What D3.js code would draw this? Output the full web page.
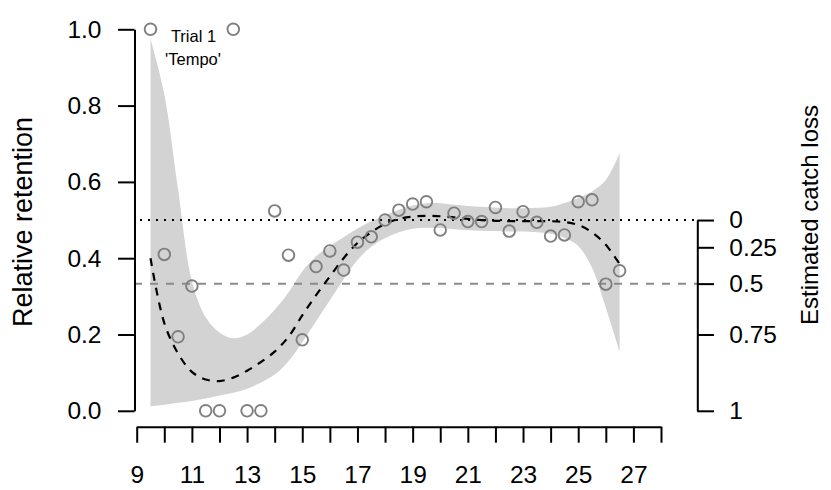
<!DOCTYPE html>
<html>
<head>
<meta charset="utf-8">
<script src="https://cdn.jsdelivr.net/npm/d3@7/dist/d3.min.js"></script>
<style>
  html, body { margin: 0; padding: 0; background: #fff; }
  svg { display: block; font-family: "Liberation Sans", Arial, Helvetica, sans-serif; }
</style>
</head>
<body>
<svg id="chart" width="831" height="490"></svg>
<script>
// Mesh size (x) at which retention was observed
const lengths = [9.5, 10, 10.5, 11, 11.5, 12, 12.5, 13, 13.5, 14, 14.5, 15, 15.5, 16, 16.5, 17, 17.5,
  18, 18.5, 19, 19.5, 20, 20.5, 21, 21.5, 22, 22.5, 23, 23.5, 24, 24.5, 25, 25.5, 26, 26.5];
// Observed relative retention
const retention = [1.0, 0.410, 0.194, 0.327, 0, 0, 1.0, 0, 0, 0.524, 0.408, 0.186, 0.378, 0.419, 0.369, 0.442, 0.456,
  0.500, 0.526, 0.542, 0.548, 0.474, 0.518, 0.496, 0.496, 0.533, 0.471, 0.522, 0.494, 0.458, 0.461, 0.548, 0.553, 0.332, 0.367];

// Smoothed fit with confidence band, evaluated on the same grid
const fitX = lengths;
const fitY = [0.40, 0.23, 0.15, 0.102, 0.082, 0.078, 0.087, 0.105, 0.128, 0.155, 0.194, 0.25, 0.303, 0.352, 0.400, 0.440, 0.468,
  0.490, 0.503, 0.509, 0.511, 0.510, 0.507, 0.503, 0.500, 0.498, 0.497, 0.497, 0.497, 0.497, 0.495, 0.487, 0.468, 0.435, 0.385];
const bandLow = [0.012, 0.016, 0.021, 0.026, 0.032, 0.040, 0.047, 0.058, 0.074, 0.095, 0.13, 0.18, 0.235, 0.29, 0.345, 0.395, 0.43,
  0.452, 0.468, 0.477, 0.480, 0.479, 0.476, 0.473, 0.472, 0.471, 0.470, 0.470, 0.468, 0.464, 0.453, 0.432, 0.375, 0.27, 0.155];
const bandHigh = [0.975, 0.83, 0.58, 0.34, 0.245, 0.205, 0.19, 0.20, 0.228, 0.265, 0.31, 0.365, 0.405, 0.432, 0.455, 0.478, 0.497,
  0.512, 0.527, 0.538, 0.544, 0.544, 0.540, 0.537, 0.535, 0.533, 0.531, 0.531, 0.532, 0.535, 0.545, 0.558, 0.575, 0.605, 0.675];

// Axis ticks and labels
const xTicks = d3.range(9, 29);
const xLabelled = [9, 11, 13, 15, 17, 19, 21, 23, 25, 27];
const yTicks = [0, 0.2, 0.4, 0.6, 0.8, 1.0];
const lossTicks = [0, 0.25, 0.5, 0.75, 1];
const lossLabels = ["0", "0.25", "0.5", "0.75", "1"];

// Reference levels: equal split (0.5) and half-catch-loss level (1/3)
const refEven = 0.5;
const refHalfLoss = 1 / 3;

const svg = d3.select("#chart");

const x = d3.scaleLinear().domain([9, 28]).range([136.7, 661]);
const y = d3.scaleLinear().domain([0, 1]).range([410.8, 29.3]);
// catch loss L maps onto retention r = (1 - L) / (2 - L)
const lossToRet = L => (1 - L) / (2 - L);

// confidence band
const area = d3.area()
  .x((d, i) => x(fitX[i]))
  .y0((d, i) => y(bandLow[i]))
  .y1((d, i) => y(bandHigh[i]))
  .curve(d3.curveCatmullRom.alpha(0.5));
svg.append("path")
  .datum(fitX)
  .attr("d", area)
  .attr("fill", "#d3d3d3");

// reference lines
svg.append("line")
  .attr("x1", 140).attr("x2", 697)
  .attr("y1", y(refEven)).attr("y2", y(refEven))
  .attr("stroke", "#000").attr("stroke-width", 2)
  .attr("stroke-dasharray", "2,6");
svg.append("line")
  .attr("x1", 134).attr("x2", 697)
  .attr("y1", y(refHalfLoss)).attr("y2", y(refHalfLoss))
  .attr("stroke", "#8a8a8a").attr("stroke-width", 2)
  .attr("stroke-dasharray", "8,8");

// fitted curve
const line = d3.line()
  .x((d, i) => x(fitX[i]))
  .y((d, i) => y(fitY[i]))
  .curve(d3.curveCatmullRom.alpha(0.5));
svg.append("path")
  .datum(fitX)
  .attr("d", line)
  .attr("fill", "none")
  .attr("stroke", "#000")
  .attr("stroke-width", 2.2)
  .attr("stroke-dasharray", "8,7");

// observations
svg.append("g")
  .selectAll("circle")
  .data(lengths)
  .join("circle")
  .attr("cx", d => x(d))
  .attr("cy", (d, i) => y(retention[i]))
  .attr("r", 5.8)
  .attr("fill", "none")
  .attr("stroke", "#7f7f7f")
  .attr("stroke-width", 1.9);

// axes
function styleAxis(g, size) {
  g.selectAll(".domain").attr("stroke", "#000").attr("stroke-width", 2);
  g.selectAll(".tick line").attr("stroke", "#000").attr("stroke-width", 2);
  g.selectAll(".tick text").attr("fill", "#000").style("font-size", size + "px")
    .style("font-family", '"Liberation Sans", Arial, sans-serif');
}

const yAxis = d3.axisLeft(y).tickValues(yTicks).tickFormat(d3.format(".1f"))
  .tickSize(16.5).tickSizeOuter(0).tickPadding(16.5);
svg.append("g").attr("transform", "translate(134.5,0)").call(yAxis).call(g => styleAxis(g, 24.5));

const xAxis = d3.axisBottom(x).tickValues(xTicks)
  .tickFormat(d => xLabelled.includes(d) ? d : "")
  .tickSize(16).tickSizeOuter(0).tickPadding(23.3);
svg.append("g").attr("transform", "translate(0,426.7)").call(xAxis).call(g => styleAxis(g, 24.5));

const yRight = y.copy().domain([0, 0.5]).range([y(0), y(0.5)]);
const rAxis = d3.axisRight(yRight).tickValues(lossTicks.map(lossToRet))
  .tickFormat((d, i) => lossLabels[i])
  .tickSize(16.7).tickSizeOuter(0).tickPadding(15.3);
svg.append("g").attr("transform", "translate(697.3,0)").call(rAxis).call(g => styleAxis(g, 24.5));

// axis titles
svg.append("text")
  .attr("transform", "translate(32,222) rotate(-90)")
  .attr("text-anchor", "middle")
  .style("font-size", "27px")
  .text("Relative retention");
svg.append("text")
  .attr("transform", "translate(818,215) rotate(-90)")
  .attr("text-anchor", "middle")
  .style("font-size", "24px")
  .text("Estimated catch loss");

// trial annotation
svg.append("text")
  .attr("x", 193.5).attr("y", 41.7)
  .attr("text-anchor", "middle")
  .style("font-size", "16.5px")
  .text("Trial 1");
svg.append("text")
  .attr("x", 193).attr("y", 65)
  .attr("text-anchor", "middle")
  .style("font-size", "16.5px")
  .text("'Tempo'");
</script>
</body>
</html>
